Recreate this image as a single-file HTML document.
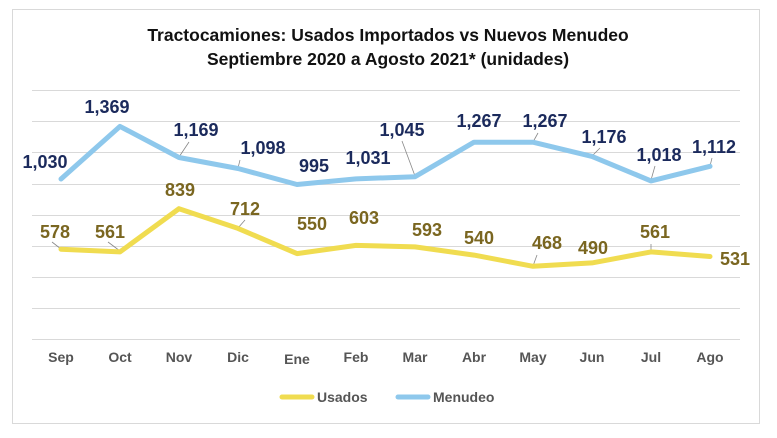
<!DOCTYPE html>
<html><head><meta charset="utf-8"><style>
body{margin:0;background:#fff;}
svg{display:block;font-family:"Liberation Sans",sans-serif;}
</style></head><body>
<svg width="777" height="438" viewBox="0 0 777 438">
<rect x="12.5" y="9.5" width="747" height="414" fill="#fff" stroke="#d9d9d9"/>
<text x="388" y="41" text-anchor="middle" font-size="17.5" font-weight="bold" fill="#111">Tractocamiones: Usados Importados  vs Nuevos Menudeo</text>
<text x="388" y="65" text-anchor="middle" font-size="17.5" font-weight="bold" fill="#111">Septiembre 2020 a Agosto 2021* (unidades)</text>
<g stroke="#d9d9d9" stroke-width="1">
<line x1="32" x2="740" y1="90.5" y2="90.5"/><line x1="32" x2="740" y1="121.5" y2="121.5"/>
<line x1="32" x2="740" y1="152.5" y2="152.5"/><line x1="32" x2="740" y1="184.5" y2="184.5"/>
<line x1="32" x2="740" y1="215.5" y2="215.5"/><line x1="32" x2="740" y1="246.5" y2="246.5"/>
<line x1="32" x2="740" y1="277.5" y2="277.5"/><line x1="32" x2="740" y1="308.5" y2="308.5"/>
<line x1="32" x2="740" y1="339.5" y2="339.5"/>
</g>
<g font-size="14" fill="#555" text-anchor="middle" font-weight="bold">
<text x="61" y="362">Sep</text><text x="120" y="362">Oct</text><text x="179" y="362">Nov</text><text x="238" y="362">Dic</text><text x="297" y="364">Ene</text><text x="356" y="362">Feb</text><text x="415" y="362">Mar</text><text x="474" y="362">Abr</text><text x="533" y="362">May</text><text x="592" y="362">Jun</text><text x="651" y="362">Jul</text><text x="710" y="362">Ago</text>
</g>
<g stroke="#888" stroke-width="0.8">
<line x1="179" y1="157" x2="189" y2="142"/><line x1="238" y1="168" x2="240" y2="160"/>
<line x1="415" y1="176" x2="402" y2="141"/><line x1="533" y1="142" x2="538" y2="133"/>
<line x1="592" y1="156" x2="600" y2="148"/><line x1="651" y1="180" x2="655" y2="166"/>
<line x1="710" y1="166" x2="712" y2="158"/>
<line x1="61" y1="249" x2="52" y2="242"/><line x1="120" y1="251" x2="108" y2="242"/>
<line x1="238" y1="228" x2="245" y2="220"/><line x1="533" y1="266" x2="537" y2="255"/>
<line x1="651" y1="251" x2="651" y2="244"/>
</g>
<polyline fill="none" stroke="#8ec8ec" stroke-width="5" stroke-linejoin="round" stroke-linecap="round" points="61,179 120,126.4 179,157.5 238,168.5 297,184.5 356,178.9 415,176.7 474,142.2 533,142.2 592,156.4 651,180.9 710,166.3"/>
<polyline fill="none" stroke="#f0dc50" stroke-width="5" stroke-linejoin="round" stroke-linecap="round" points="61,249.2 120,251.9 179,208.7 238,228.4 297,253.6 356,245.4 415,246.9 474,255.1 533,266.3 592,262.9 651,251.9 710,256.5"/>
<g font-size="18" font-weight="bold" fill="#1b2a5c" text-anchor="middle">
<text x="45" y="168">1,030</text><text x="107" y="113">1,369</text><text x="196" y="136">1,169</text><text x="263" y="154">1,098</text><text x="314" y="172">995</text><text x="368" y="164">1,031</text><text x="402" y="136">1,045</text><text x="479" y="127">1,267</text><text x="545" y="127">1,267</text><text x="604" y="143">1,176</text><text x="659" y="161">1,018</text><text x="714" y="153">1,112</text>
</g>
<g font-size="18" font-weight="bold" fill="#7a6620" text-anchor="middle">
<text x="55" y="238">578</text><text x="110" y="238">561</text><text x="180" y="196">839</text><text x="245" y="215">712</text><text x="312" y="230">550</text><text x="364" y="224">603</text><text x="427" y="236">593</text><text x="479" y="244">540</text><text x="547" y="249">468</text><text x="593" y="254">490</text><text x="655" y="238">561</text><text x="735" y="265">531</text>
</g>
<line x1="282" y1="397" x2="312" y2="397" stroke="#f0dc50" stroke-width="5" stroke-linecap="round"/>
<text x="317" y="402" font-size="14" font-weight="bold" fill="#555">Usados</text>
<line x1="398" y1="397" x2="428" y2="397" stroke="#8ec8ec" stroke-width="5" stroke-linecap="round"/>
<text x="433" y="402" font-size="14" font-weight="bold" fill="#555">Menudeo</text>
</svg>
</body></html>
